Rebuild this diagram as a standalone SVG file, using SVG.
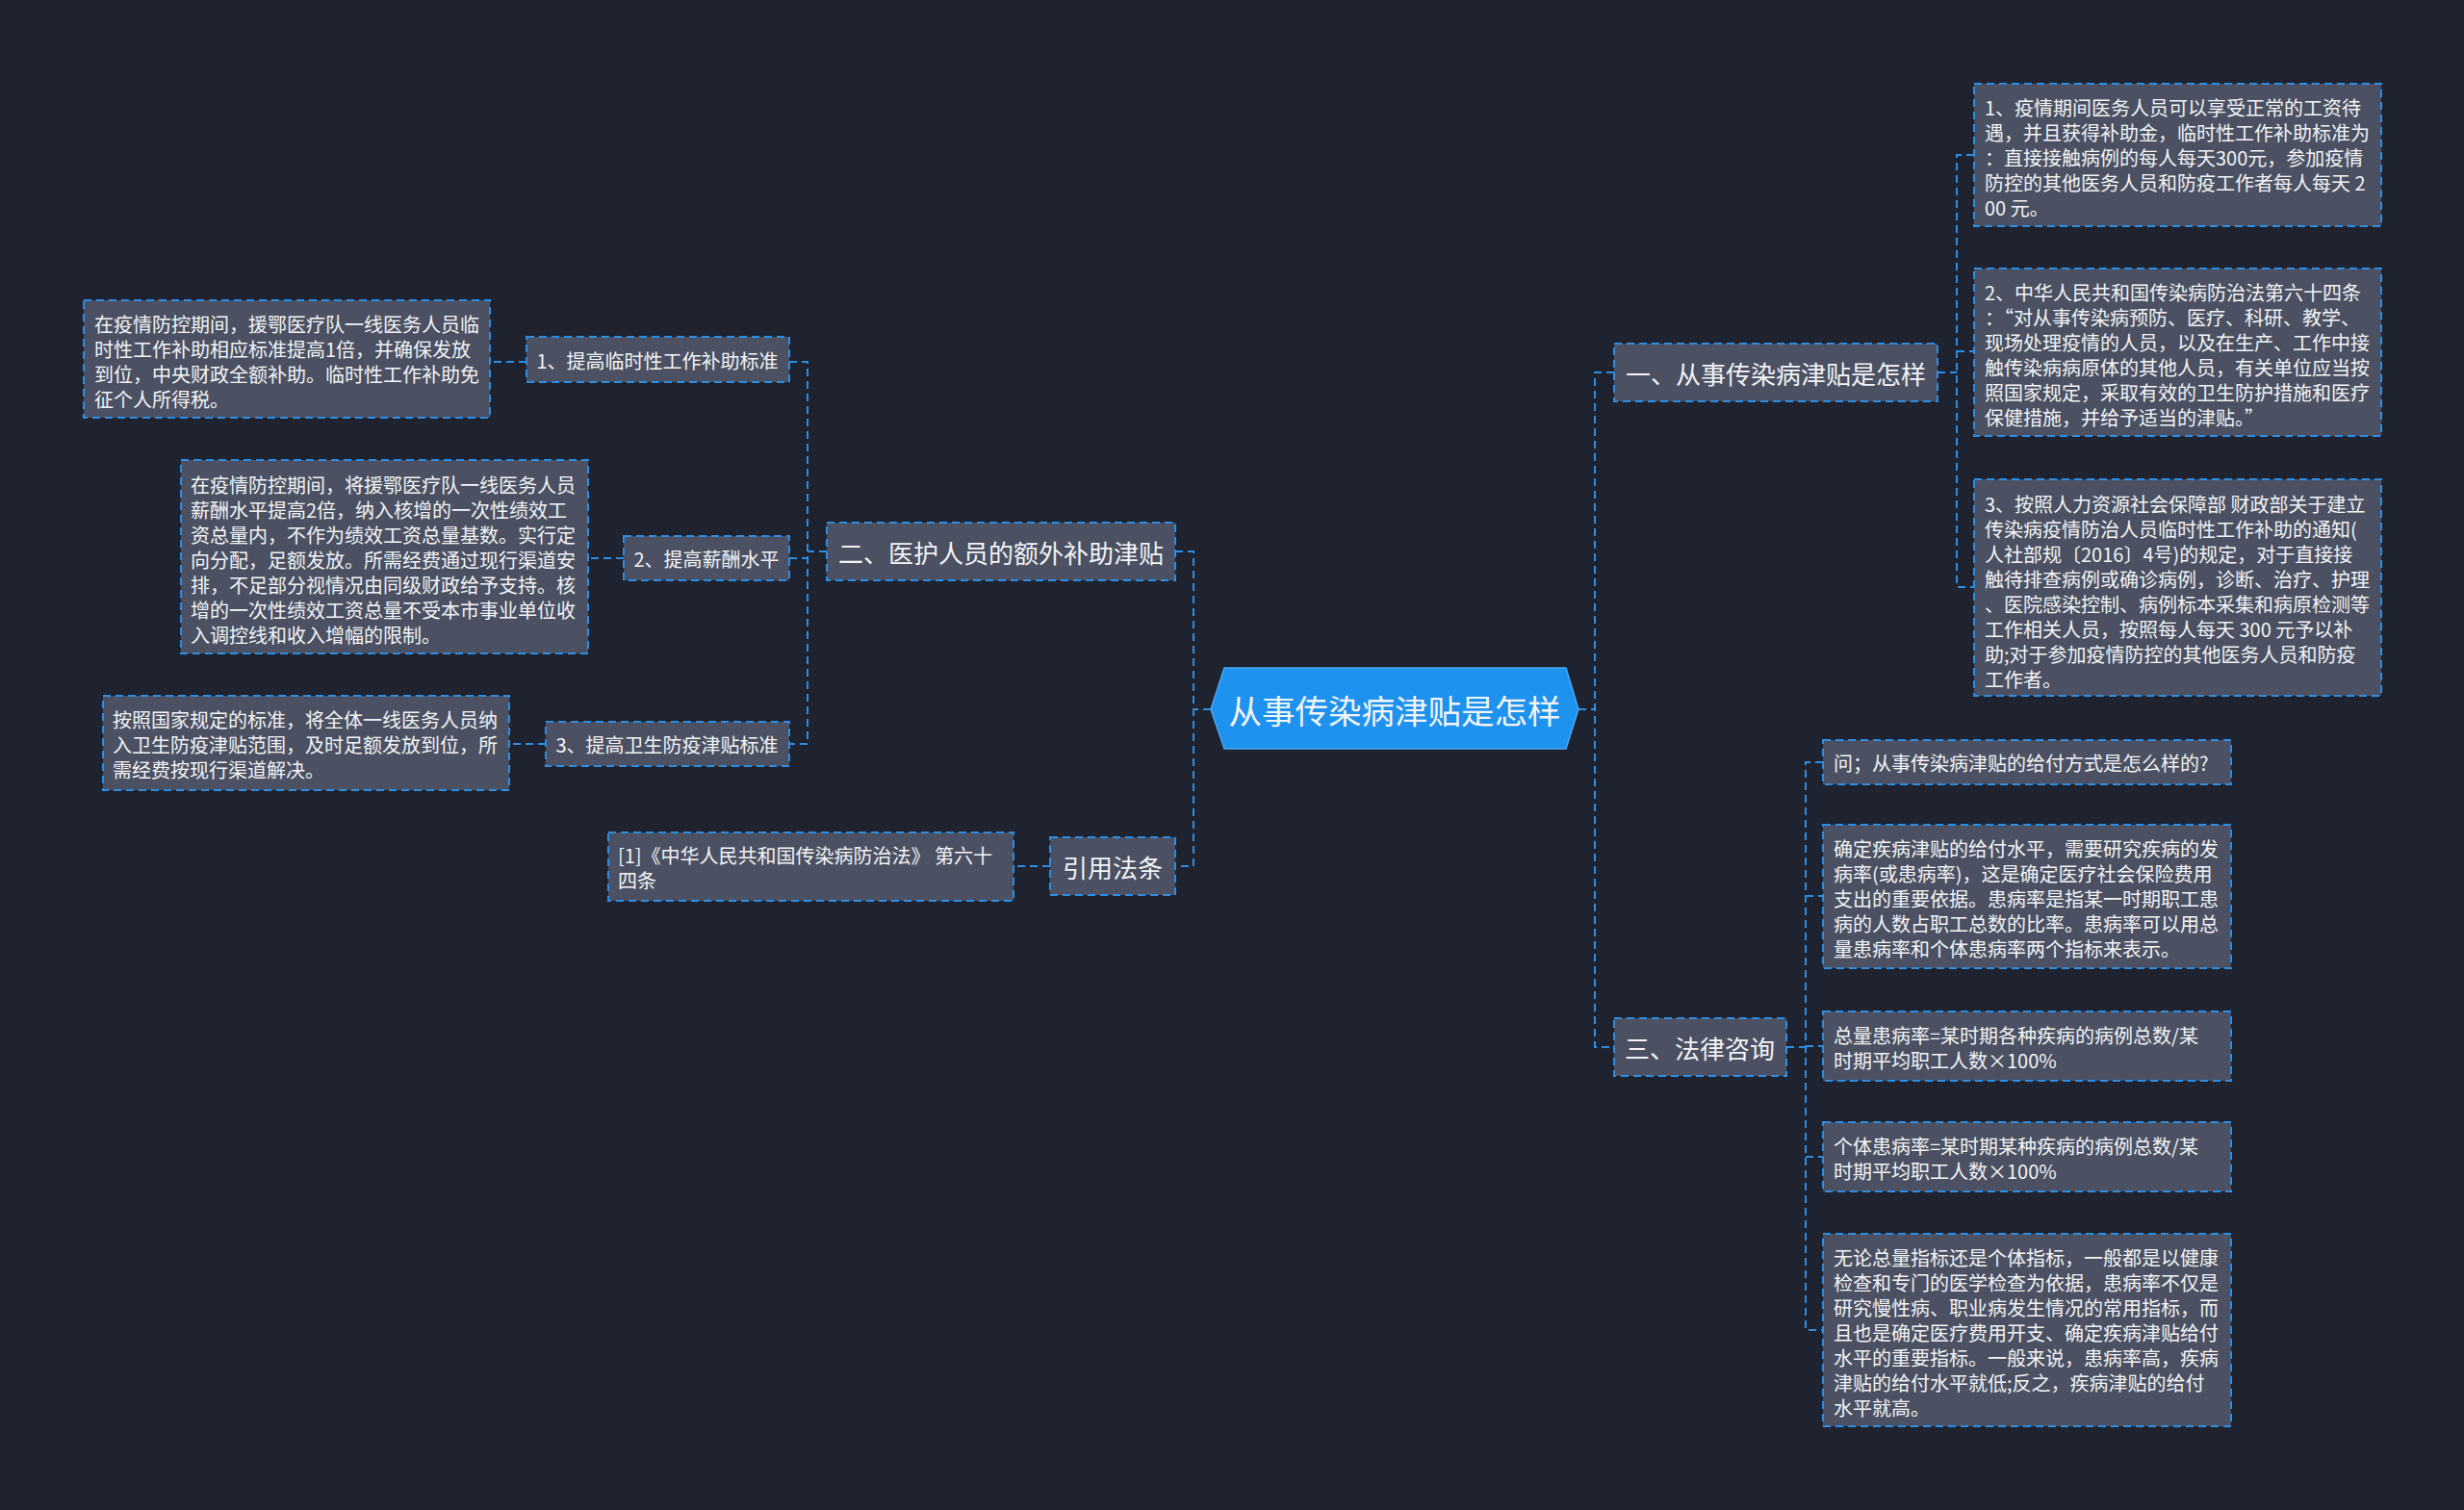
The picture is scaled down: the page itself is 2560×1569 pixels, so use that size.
<svg xmlns="http://www.w3.org/2000/svg" width="2560" height="1569" viewBox="0 0 2560 1569">
<style>
.bg{fill:#1f232f}
.box{fill:#4b5162;stroke:#2b8de4;stroke-width:2;stroke-dasharray:8 5}
.t{font-family:"Noto Sans CJK SC","Liberation Sans",sans-serif;fill:#f2f4f7;dominant-baseline:central}
.s{font-size:20px}
.b{font-size:26px}
.c{font-size:34.5px}
.m{text-anchor:middle}
.con{fill:none;stroke:#2b8de4;stroke-width:2;stroke-dasharray:8 5}
</style>
<rect class="bg" x="0" y="0" width="2560" height="1569"/>
<g id="connectors">
<path class="con" d="M1640,737 H1657 M1677,387 H1657 V1088 H1677"/>
<path class="con" d="M1258,737 H1240 M1221,573 H1240 V900 H1221"/>
<path class="con" d="M859,573 H839 M820,376 H839 V773 H820 M820,580 H839"/>
<path class="con" d="M547,376 H509 M648,580 H611 M567,773 H529 M1091,900 H1053"/>
<path class="con" d="M2013,387 H2033 M2051,161 H2033 V610 H2051 M2033,365 H2051"/>
<path class="con" d="M1856,1088 H1876 M1894,792 H1876 V1382 H1894 M1876,931 H1894 M1876,1087 H1894 M1876,1202 H1894"/>
</g>
<g id="center">
<polygon points="1258,737 1272,694 1627,694 1640,737 1627,778 1272,778" fill="#1d92ee" stroke="#4aa8f2" stroke-width="1.5"/>
<text class="t c m" x="1449" y="737">从事传染病津贴是怎样</text>
</g>
<g id="b1">
<rect class="box" x="1677" y="357" width="336" height="60"/>
<text class="t b m" x="1845" y="387">一、从事传染病津贴是怎样</text>
</g>
<g id="b2">
<rect class="box" x="859" y="543" width="362" height="60"/>
<text class="t b m" x="1040" y="573">二、医护人员的额外补助津贴</text>
</g>
<g id="b3">
<rect class="box" x="1091" y="870" width="130" height="60"/>
<text class="t b m" x="1156" y="900">引用法条</text>
</g>
<g id="b4">
<rect class="box" x="1677" y="1058" width="179" height="60"/>
<text class="t b m" x="1766" y="1088">三、法律咨询</text>
</g>
<g id="l1label">
<rect class="box" x="547" y="350" width="273" height="47"/>
<text class="t s m" x="683" y="374">1、提高临时性工作补助标准</text>
</g>
<g id="l2label">
<rect class="box" x="648" y="557" width="172" height="46"/>
<text class="t s m" x="734" y="580">2、提高薪酬水平</text>
</g>
<g id="l3label">
<rect class="box" x="567" y="750" width="253" height="46"/>
<text class="t s m" x="693" y="773">3、提高卫生防疫津贴标准</text>
</g>
<g id="l1">
<rect class="box" x="87" y="312" width="422" height="122"/>
<text class="t s" x="98"><tspan x="98" y="336">在疫情防控期间，援鄂医疗队一线医务人员临</tspan><tspan x="98" y="362">时性工作补助相应标准提高1倍，并确保发放</tspan><tspan x="98" y="388">到位，中央财政全额补助。临时性工作补助免</tspan><tspan x="98" y="414">征个人所得税。</tspan></text>
</g>
<g id="l2">
<rect class="box" x="188" y="478" width="423" height="201"/>
<text class="t s" x="198"><tspan x="198" y="503">在疫情防控期间，将援鄂医疗队一线医务人员</tspan><tspan x="198" y="529">薪酬水平提高2倍，纳入核增的一次性绩效工</tspan><tspan x="198" y="555">资总量内，不作为绩效工资总量基数。实行定</tspan><tspan x="198" y="581">向分配，足额发放。所需经费通过现行渠道安</tspan><tspan x="198" y="607">排，不足部分视情况由同级财政给予支持。核</tspan><tspan x="198" y="633">增的一次性绩效工资总量不受本市事业单位收</tspan><tspan x="198" y="659">入调控线和收入增幅的限制。</tspan></text>
</g>
<g id="l3">
<rect class="box" x="107" y="723" width="422" height="98"/>
<text class="t s" x="117"><tspan x="117" y="747">按照国家规定的标准，将全体一线医务人员纳</tspan><tspan x="117" y="773">入卫生防疫津贴范围，及时足额发放到位，所</tspan><tspan x="117" y="799">需经费按现行渠道解决。</tspan></text>
</g>
<g id="ref">
<rect class="box" x="632" y="865" width="421" height="71"/>
<text class="t s" x="642"><tspan x="642" y="888">[1]《中华人民共和国传染病防治法》 第六十</tspan><tspan x="642" y="914">四条</tspan></text>
</g>
<g id="r1">
<rect class="box" x="2051" y="87" width="423" height="148"/>
<text class="t s" x="2062"><tspan x="2062" y="111">1、疫情期间医务人员可以享受正常的工资待</tspan><tspan x="2062" y="137">遇，并且获得补助金，临时性工作补助标准为</tspan><tspan x="2062" y="163">：直接接触病例的每人每天300元，参加疫情</tspan><tspan x="2062" y="189">防控的其他医务人员和防疫工作者每人每天 2</tspan><tspan x="2062" y="215">00 元。</tspan></text>
</g>
<g id="r2">
<rect class="box" x="2051" y="279" width="423" height="174"/>
<text class="t s" x="2062"><tspan x="2062" y="303">2、中华人民共和国传染病防治法第六十四条</tspan><tspan x="2062" y="329">：“对从事传染病预防、医疗、科研、教学、</tspan><tspan x="2062" y="355">现场处理疫情的人员，以及在生产、工作中接</tspan><tspan x="2062" y="381">触传染病病原体的其他人员，有关单位应当按</tspan><tspan x="2062" y="407">照国家规定，采取有效的卫生防护措施和医疗</tspan><tspan x="2062" y="433">保健措施，并给予适当的津贴。”</tspan></text>
</g>
<g id="r3">
<rect class="box" x="2051" y="498" width="423" height="225"/>
<text class="t s" x="2062"><tspan x="2062" y="523">3、按照人力资源社会保障部 财政部关于建立</tspan><tspan x="2062" y="549">传染病疫情防治人员临时性工作补助的通知(</tspan><tspan x="2062" y="575">人社部规〔2016〕4号)的规定，对于直接接</tspan><tspan x="2062" y="601">触待排查病例或确诊病例，诊断、治疗、护理</tspan><tspan x="2062" y="627">、医院感染控制、病例标本采集和病原检测等</tspan><tspan x="2062" y="653">工作相关人员，按照每人每天 300 元予以补</tspan><tspan x="2062" y="679">助;对于参加疫情防控的其他医务人员和防疫</tspan><tspan x="2062" y="705">工作者。</tspan></text>
</g>
<g id="q1">
<rect class="box" x="1894" y="769" width="424" height="46"/>
<text class="t s" x="1905" y="792">问；从事传染病津贴的给付方式是怎么样的?</text>
</g>
<g id="q2">
<rect class="box" x="1894" y="857" width="424" height="149"/>
<text class="t s" x="1905"><tspan x="1905" y="881">确定疾病津贴的给付水平，需要研究疾病的发</tspan><tspan x="1905" y="907">病率(或患病率)，这是确定医疗社会保险费用</tspan><tspan x="1905" y="933">支出的重要依据。患病率是指某一时期职工患</tspan><tspan x="1905" y="959">病的人数占职工总数的比率。患病率可以用总</tspan><tspan x="1905" y="985">量患病率和个体患病率两个指标来表示。</tspan></text>
</g>
<g id="q3">
<rect class="box" x="1894" y="1051" width="424" height="72"/>
<text class="t s" x="1905"><tspan x="1905" y="1075">总量患病率=某时期各种疾病的病例总数/某</tspan><tspan x="1905" y="1101">时期平均职工人数×100%</tspan></text>
</g>
<g id="q4">
<rect class="box" x="1894" y="1166" width="424" height="72"/>
<text class="t s" x="1905"><tspan x="1905" y="1190">个体患病率=某时期某种疾病的病例总数/某</tspan><tspan x="1905" y="1216">时期平均职工人数×100%</tspan></text>
</g>
<g id="q5">
<rect class="box" x="1894" y="1282" width="424" height="200"/>
<text class="t s" x="1905"><tspan x="1905" y="1306">无论总量指标还是个体指标，一般都是以健康</tspan><tspan x="1905" y="1332">检查和专门的医学检查为依据，患病率不仅是</tspan><tspan x="1905" y="1358">研究慢性病、职业病发生情况的常用指标，而</tspan><tspan x="1905" y="1384">且也是确定医疗费用开支、确定疾病津贴给付</tspan><tspan x="1905" y="1410">水平的重要指标。一般来说，患病率高，疾病</tspan><tspan x="1905" y="1436">津贴的给付水平就低;反之，疾病津贴的给付</tspan><tspan x="1905" y="1462">水平就高。</tspan></text>
</g>
</svg>
